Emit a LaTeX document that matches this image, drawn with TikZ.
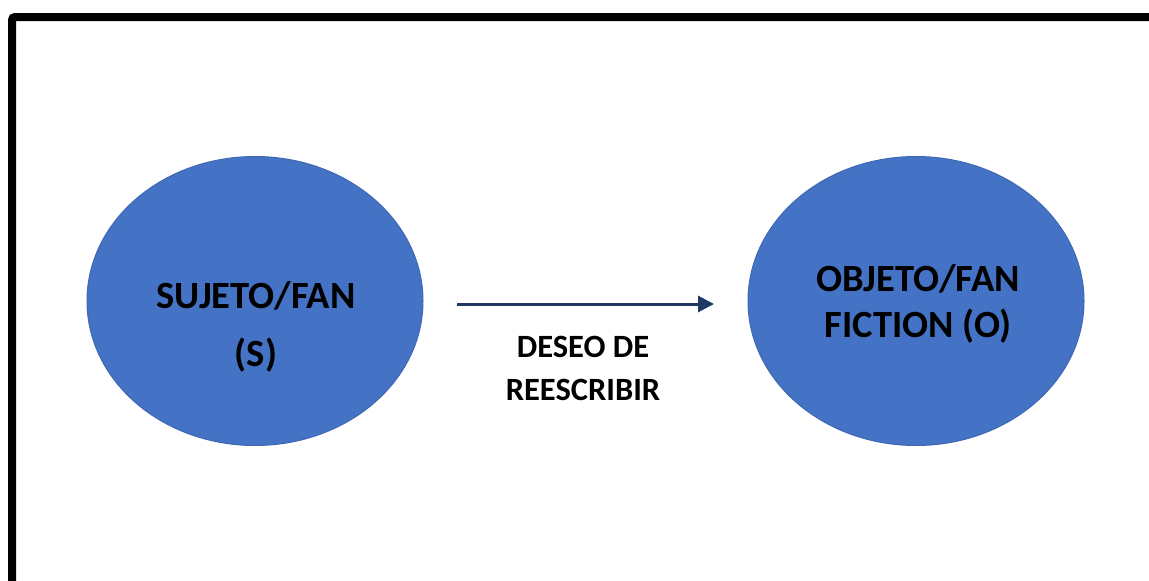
\documentclass[tikz,border=0pt]{standalone}
\usepackage{fontspec}
\setmainfont{Carlito}
\usetikzlibrary{arrows.meta,shapes.geometric}
\definecolor{ovalblue}{HTML}{4472C4}
\definecolor{ovaledge}{HTML}{3F68B4}
\definecolor{arrownavy}{HTML}{203864}
\tikzset{
  oval/.style={ellipse, fill=ovalblue, draw=ovaledge, line width=1pt,
    minimum width=336pt, minimum height=289pt, inner sep=0pt},
  ovaltext/.style={align=center, inner sep=0pt, text=black},
  lbl/.style={align=center, font=\fontsize{32.5}{43}\selectfont\bfseries, text=black},
  conn/.style={draw=arrownavy, line width=3pt, -{Triangle[length=16pt,width=16pt]}}
}
\begin{document}
\begin{tikzpicture}[x=1pt,y=-1pt]
\useasboundingbox (0,0) rectangle (1149,581);
\draw[line width=8pt, rounded corners=3pt] (12,17) rectangle (1200,640);
\node[oval] (s) at (255,301) {};
\node[oval] (o) at (916,301) {};
\node[ovaltext, font=\fontsize{38.5}{58}\selectfont\bfseries] (st) at (256,327) {SUJETO/FAN\\(S)};
\node[ovaltext, font=\fontsize{38.5}{46}\selectfont\bfseries] (ot) at (918,304) {OBJETO/FAN\\FICTION (O)};
\coordinate (a1) at (457,304);
\coordinate (a2) at (714,304);
\draw[conn] (a1) -- (a2);
\node[lbl] (l) at (583,368) {DESEO DE\\REESCRIBIR};
\end{tikzpicture}
\end{document}
